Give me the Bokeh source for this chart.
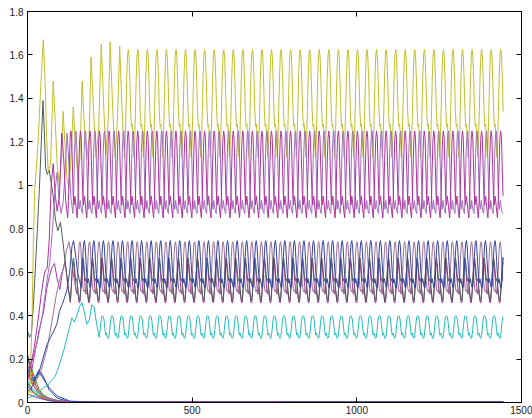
import numpy as np
from bokeh.plotting import figure
from bokeh.models import FixedTicker, LinearAxis, Range1d
from bokeh.embed import file_html
from bokeh.resources import INLINE

# ---------------- data ----------------
PERIOD = 29.0      # oscillation period (time units)
T_END = 1445.0     # last time value

x_ticks = [0, 500, 1000, 1500]
x_tick_labels = ["0", "500", "1000", "1500"]
y_ticks = [0, 0.2, 0.4, 0.6, 0.8, 1.0, 1.2, 1.4, 1.6, 1.8]
y_tick_labels = ["0", "0.2", "0.4", "0.6", "0.8", "1", "1.2", "1.4", "1.6", "1.8"]

# transients (time, value) and one steady cycle (12 samples per period)
yellow_t = [0, 8, 14, 18, 22, 27, 33, 40, 48, 53, 58, 63, 70, 78, 84, 90, 97, 104, 108, 114,
            120, 126, 133, 139, 145, 152, 159, 166, 173, 180, 187, 193, 200, 208, 216, 224,
            231, 238, 245, 251, 258, 266, 273, 280, 287, 294]
yellow_v = [0.02, 0.08, 0.40, 0.75, 0.98, 1.08, 1.22, 1.45, 1.67, 1.50, 1.22, 1.06, 1.10, 1.48,
            1.30, 1.10, 1.00, 1.15, 1.34, 1.18, 1.03, 0.99, 1.15, 1.36, 1.20, 1.06, 1.12, 1.48,
            1.26, 1.12, 1.22, 1.59, 1.36, 1.13, 1.26, 1.65, 1.38, 1.14, 1.30, 1.66, 1.38, 1.13,
            1.30, 1.64, 1.35, 1.13]
yellow_cycle = [1.13, 1.19, 1.34, 1.50, 1.60, 1.625, 1.59, 1.48, 1.34, 1.27, 1.28, 1.22]

maghi_t = [0, 12, 22, 32, 42, 52, 60, 66, 72, 78, 84, 90, 97, 104, 110, 116, 122]
maghi_v = [0.10, 0.18, 0.27, 0.38, 0.50, 0.60, 0.62, 0.75, 1.00, 1.10, 0.96, 0.88, 0.95, 1.24,
           1.12, 0.93, 0.85]
maghi_cycle = [0.85, 0.93, 1.08, 1.21, 1.25, 1.22, 1.08, 0.95, 0.91, 0.95, 0.92, 0.88]

lav_t = [0, 15, 30, 45, 58, 68, 76, 84, 90, 96, 102, 108, 114, 120, 126, 132, 138]
lav_v = [0.15, 0.20, 0.28, 0.40, 0.55, 0.65, 0.80, 0.98, 1.06, 0.93, 0.87, 0.92, 1.05, 1.24,
         1.10, 0.94, 0.87]
lav_cycle = [0.87, 0.98, 1.15, 1.24, 1.25, 1.17, 1.02, 0.92, 0.89, 0.93, 0.90, 0.88]

gray_t = [0, 6, 12, 18, 24, 30, 36, 42, 47, 51, 55, 60, 66, 72, 78, 85, 92, 100, 106, 112,
          118, 124, 130]
gray_v = [0.33, 0.30, 0.32, 0.45, 0.62, 0.80, 0.98, 1.20, 1.39, 1.25, 1.08, 1.05, 1.07, 1.01,
          0.95, 0.84, 0.79, 0.83, 0.76, 0.68, 0.60, 0.52, 0.47]
gray_cycle = [0.47, 0.52, 0.59, 0.65, 0.665, 0.64, 0.59, 0.56, 0.57, 0.54, 0.50, 0.47]

blue_t = [0, 10, 20, 30, 39, 50, 60, 70, 80, 89, 97, 105, 112, 120, 128, 135, 140, 146, 152,
          158, 163]
blue_v = [0.22, 0.13, 0.10, 0.12, 0.16, 0.22, 0.27, 0.30, 0.33, 0.36, 0.42, 0.45, 0.48, 0.52,
          0.60, 0.72, 0.745, 0.68, 0.60, 0.56, 0.53]
blue_cycle = [0.53, 0.58, 0.67, 0.73, 0.745, 0.72, 0.65, 0.59, 0.55, 0.57, 0.55, 0.53]

magmid_t = [0, 13, 25, 35, 49, 58, 66, 74, 82, 90, 98, 106, 114, 122, 130]
magmid_v = [0.12, 0.15, 0.25, 0.33, 0.42, 0.52, 0.58, 0.62, 0.64, 0.57, 0.52, 0.60, 0.65,
            0.55, 0.46]
magmid_cycle = [0.46, 0.51, 0.58, 0.63, 0.645, 0.61, 0.56, 0.52, 0.50, 0.52, 0.49, 0.46]

mauve_t = [0, 20, 40, 60, 75, 88, 100, 110, 118, 126, 134, 142, 150]
mauve_v = [0.06, 0.08, 0.14, 0.25, 0.38, 0.50, 0.58, 0.62, 0.70, 0.74, 0.66, 0.56, 0.50]
mauve_cycle = [0.50, 0.57, 0.67, 0.73, 0.74, 0.71, 0.63, 0.56, 0.52, 0.51, 0.52, 0.50]

cyan_t = [0, 20, 35, 50, 62, 72, 84, 94, 104, 112, 120, 128, 135, 142, 150, 158, 165, 172,
          180, 188, 195, 202, 210, 218]
cyan_v = [0.02, 0.03, 0.05, 0.07, 0.08, 0.10, 0.12, 0.16, 0.21, 0.25, 0.30, 0.35, 0.39, 0.37,
          0.40, 0.44, 0.46, 0.42, 0.36, 0.38, 0.45, 0.44, 0.36, 0.30]
cyan_cycle = [0.30, 0.33, 0.37, 0.395, 0.40, 0.395, 0.38, 0.34, 0.31, 0.32, 0.305, 0.295]

# decaying species near zero
low_t = [0, 8, 16, 25, 35, 48, 65, 90, 130, 200, 1445]
low_red = [0.22, 0.17, 0.12, 0.08, 0.05, 0.03, 0.015, 0.006, 0.002, 0.001, 0.001]
low_green = [0.20, 0.18, 0.14, 0.10, 0.06, 0.035, 0.02, 0.01, 0.003, 0.001, 0.001]
low_yellow = [0.18, 0.13, 0.09, 0.06, 0.04, 0.02, 0.01, 0.004, 0.001, 0.001, 0.001]
low_olive = [0.14, 0.11, 0.085, 0.06, 0.04, 0.025, 0.012, 0.005, 0.002, 0.001, 0.001]
low_cyan = [0.10, 0.08, 0.06, 0.05, 0.04, 0.03, 0.015, 0.006, 0.002, 0.001, 0.001]
low_dark = [0.09, 0.07, 0.05, 0.04, 0.03, 0.02, 0.01, 0.005, 0.002, 0.001, 0.001]
low_teal = [0.08, 0.06, 0.05, 0.035, 0.025, 0.015, 0.008, 0.004, 0.001, 0.001, 0.001]
low_orange = [0.06, 0.05, 0.045, 0.04, 0.03, 0.02, 0.012, 0.005, 0.002, 0.001, 0.001]
low_purple = [0.04, 0.035, 0.03, 0.025, 0.02, 0.015, 0.01, 0.004, 0.002, 0.001, 0.001]
low_navy = [0.05, 0.06, 0.08, 0.12, 0.15, 0.12, 0.06, 0.02, 0.003, 0.001, 0.001]
low_magenta_t = [0, 8, 16, 25, 35, 48, 65, 90, 130, 200, 785]
low_magenta = [0.12, 0.10, 0.08, 0.065, 0.05, 0.03, 0.02, 0.008, 0.004, 0.004, 0.004]
low_blue = [0.16, 0.12, 0.10, 0.12, 0.14, 0.11, 0.07, 0.03, 0.006, 0.002, 0.002]


def series(trans_t, trans_v, cycle=None):
    t = list(trans_t)
    v = list(trans_v)
    if cycle is not None:
        n = len(cycle)
        dt = PERIOD / n
        k = 1
        start = trans_t[-1]
        while start + k * dt <= T_END:
            t.append(start + k * dt)
            v.append(cycle[k % n])
            k += 1
    return t, v


p = figure(frame_width=494, frame_height=391,
           x_range=Range1d(0, 1500), y_range=Range1d(0, 1.8),
           output_backend="svg", toolbar_location=None,
           min_border_left=27, min_border_right=11, min_border_top=11, min_border_bottom=16,
           background_fill_color="white", border_fill_color="white")
p.xgrid.visible = False
p.ygrid.visible = False
p.outline_line_color = "black"
p.outline_line_width = 1

lows = [
    (low_t, low_red, "#FF2020"), (low_t, low_green, "#1A9A1A"), (low_t, low_yellow, "#C8C020"),
    (low_t, low_olive, "#8A8A30"), (low_t, low_cyan, "#20C0C0"), (low_t, low_dark, "#404040"),
    (low_t, low_teal, "#2A8A8A"), (low_t, low_orange, "#F08020"), (low_t, low_purple, "#8040C0"),
    (low_t, low_navy, "#2A3A9A"), (low_magenta_t, low_magenta, "#C050B0"),
    (low_t, low_blue, "#2A40B0"),
]
for tt, vv, c in lows:
    p.line(tt, vv, line_color=c, line_width=1)

main = [
    (cyan_t, cyan_v, cyan_cycle, "#22BDBD"),
    (magmid_t, magmid_v, magmid_cycle, "#A8369E"),
    (mauve_t, mauve_v, mauve_cycle, "#9C7098"),
    (gray_t, gray_v, gray_cycle, "#4E5E58"),
    (blue_t, blue_v, blue_cycle, "#3442A0"),
    (yellow_t, yellow_v, yellow_cycle, "#C2BE2A"),
    (lav_t, lav_v, lav_cycle, "#A070BE"),
    (maghi_t, maghi_v, maghi_cycle, "#B0309E"),
]
for tt, vv, cyc, c in main:
    xs, ys = series(tt, vv, cyc)
    p.line(xs, ys, line_color=c, line_width=1)

FONT = "Liberation Sans"
for ax in (p.xaxis[0], p.yaxis[0]):
    ax.major_tick_in = 5
    ax.major_tick_out = 0
    ax.minor_tick_line_color = None
    ax.axis_line_color = "black"
    ax.major_tick_line_color = "black"
    ax.major_label_text_font = FONT
    ax.major_label_text_font_size = "10px"
    ax.major_label_text_color = "#222222"

p.xaxis[0].ticker = FixedTicker(ticks=x_ticks)
p.xaxis[0].major_label_overrides = dict(zip(x_ticks, x_tick_labels))
p.xaxis[0].major_label_standoff = 3
p.yaxis[0].ticker = FixedTicker(ticks=y_ticks)
p.yaxis[0].major_label_overrides = dict(zip(y_ticks, y_tick_labels))
p.yaxis[0].major_label_standoff = 4

for loc, ticks in (("above", x_ticks), ("right", y_ticks)):
    ax = LinearAxis(ticker=FixedTicker(ticks=ticks), major_tick_in=5, major_tick_out=0,
                    minor_tick_line_color=None, major_label_standoff=0,
                    major_label_overrides={t: "" for t in ticks},
                    axis_line_color="black", major_tick_line_color="black")
    p.add_layout(ax, loc)

open("out.html", "w").write(file_html(p, INLINE))
